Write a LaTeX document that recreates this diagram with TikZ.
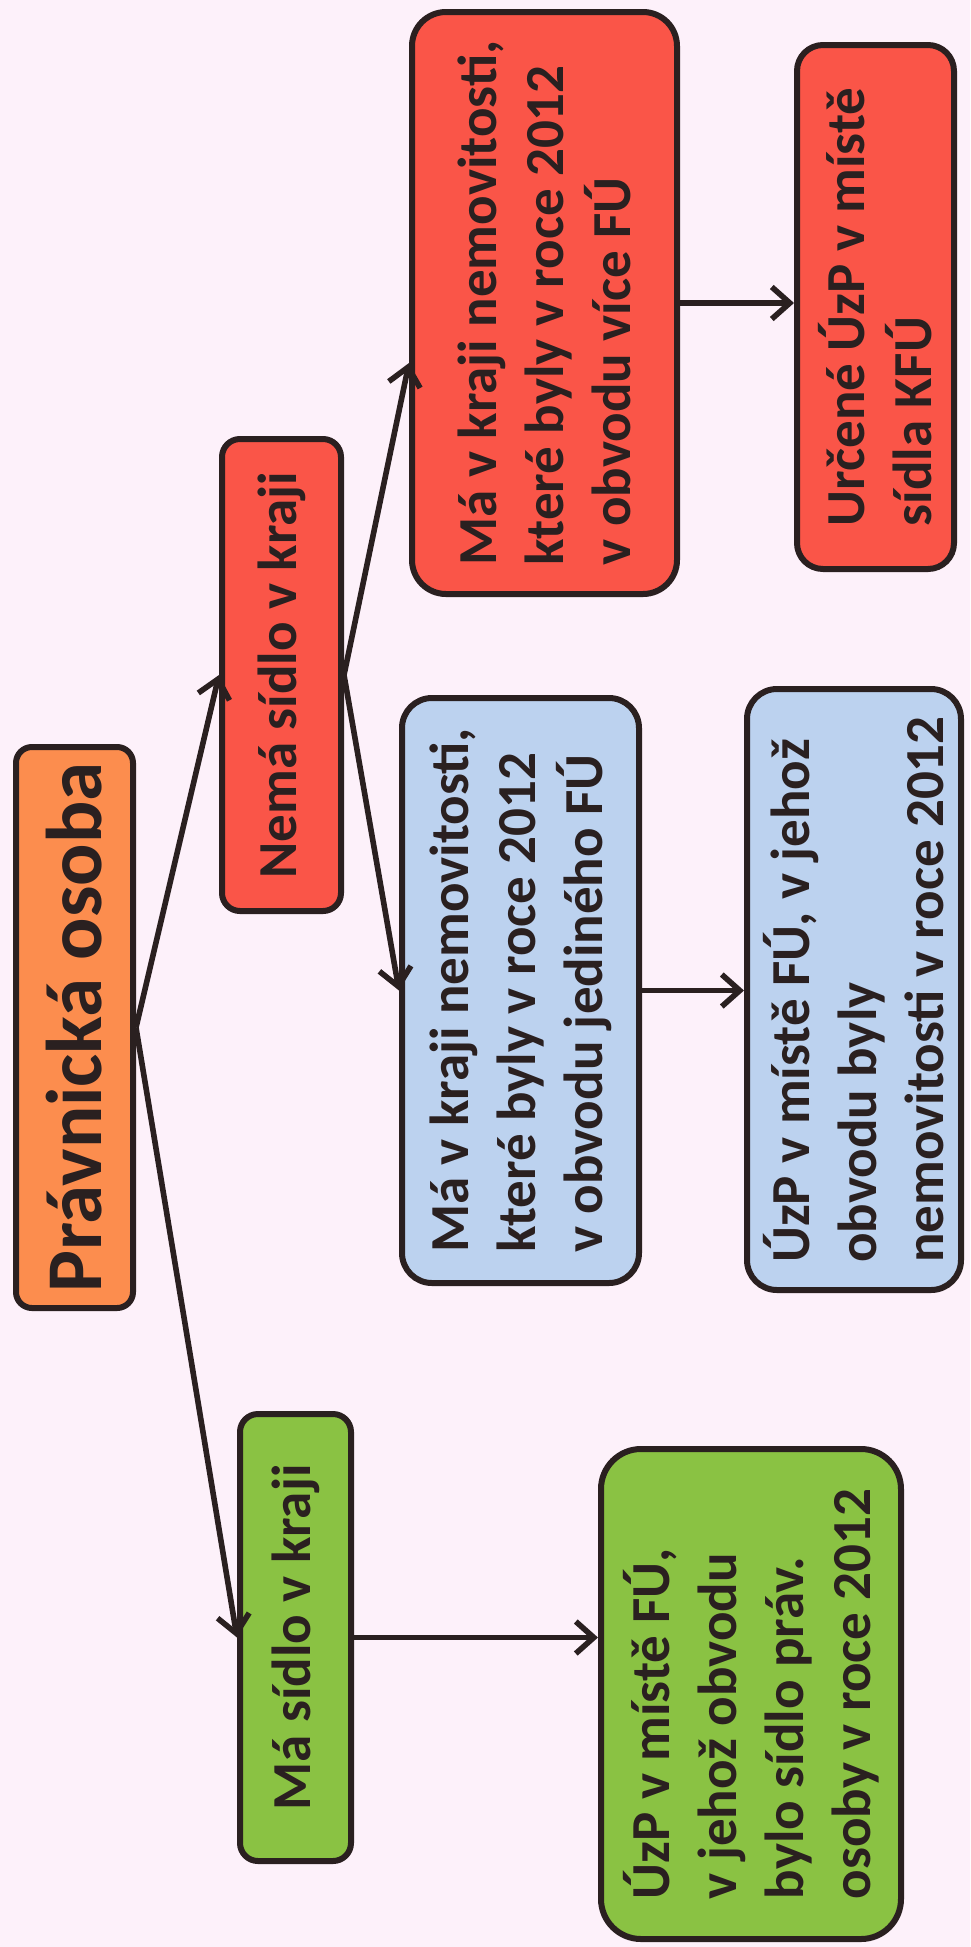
\documentclass[tikz,border=0pt]{standalone}
\usepackage{fontspec}
\setmainfont{Carlito}
\usetikzlibrary{arrows.meta,calc}
\definecolor{bgpink}{HTML}{FDF1FA}
\definecolor{orangebox}{HTML}{FC8D4E}
\definecolor{redbox}{HTML}{FA5548}
\definecolor{greenbox}{HTML}{8AC243}
\definecolor{bluebox}{HTML}{BCD2EF}
\definecolor{inkdark}{HTML}{2A2020}
\tikzset{
  box/.style={draw=inkdark, line width=6pt, rotate=90, inner sep=0pt,
    align=left, text=inkdark, font=\bfseries\fontsize{55}{67}\selectfont},
  arr/.style={draw=inkdark, line width=5.6pt,
    -{Straight Barb[length=18pt,width=32pt,line width=5.6pt]}},
}
\begin{document}
\begin{tikzpicture}[x=1pt,y=1pt]
\fill[bgpink] (0,0) rectangle (970,-1947);
\useasboundingbox (0,0) rectangle (970,-1947);

\node[box, fill=orangebox, rounded corners=16pt, minimum width=561pt, minimum height=117pt,
  font=\bfseries\fontsize{79}{92}\selectfont] (po) at (74.5,-1027.5) {Právnická osoba};
\node[box, fill=redbox, rounded corners=18pt, minimum width=472pt, minimum height=119pt]
  (nema) at (281.5,-675) {Nemá sídlo v kraji};
\node[box, fill=greenbox, rounded corners=18pt, minimum width=447pt, minimum height=111pt]
  (masid) at (295.5,-1637.5) {Má sídlo v kraji};
\node[box, fill=redbox, rounded corners=34pt, minimum width=582pt, minimum height=265pt]
  (rbig) at (544.5,-303) {Má v kraji nemovitosti,\\které byly v roce 2012\\v obvodu více FÚ};
\node[box, fill=bluebox, rounded corners=30pt, minimum width=585pt, minimum height=237pt]
  (blue) at (520.5,-990.5) {Má v kraji nemovitosti,\\které byly v roce 2012\\v obvodu jediného FÚ};
\node[box, fill=greenbox, rounded corners=40pt, minimum width=490pt, minimum height=300pt]
  (gbig) at (751,-1694) {ÚzP v místě FÚ,\\v jehož obvodu\\bylo sídlo práv.\\osoby v roce 2012};
\node[box, fill=redbox, rounded corners=26pt, minimum width=524pt, minimum height=157pt]
  (rsmall) at (875.5,-307) {Určené ÚzP v místě\\sídla KFÚ};
\node[box, fill=bluebox, rounded corners=30pt, minimum width=601pt, minimum height=214pt]
  (blue2) at (854,-989.5) {ÚzP v místě FÚ, v jehož\\obvodu byly\\nemovitosti v roce 2012};

\draw[arr] (po.south) -- (nema.north);
\draw[arr] (po.south) -- (masid.north);
\draw[arr] (nema.south) -- ([yshift=-60pt]rbig.north);
\draw[arr] (nema.south) -- (blue.north);
\draw[arr] (rbig.south) -- (rbig.south -| rsmall.north);
\draw[arr] (blue.south) -- (blue.south -| blue2.north);
\draw[arr] (masid.south) -- (masid.south -| gbig.north);
\end{tikzpicture}
\end{document}
